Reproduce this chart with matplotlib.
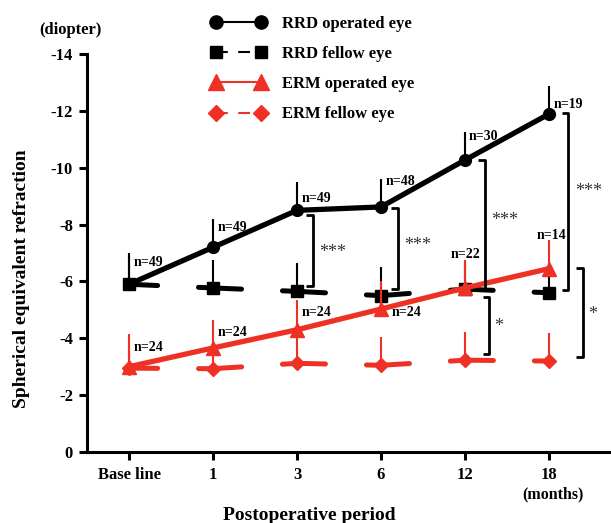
import numpy as np
import matplotlib
matplotlib.use("Agg")
import matplotlib.pyplot as plt
from matplotlib.lines import Line2D

plt.rcParams['font.family'] = 'Liberation Serif'
plt.rcParams['font.weight'] = 'bold'
plt.rcParams['axes.unicode_minus'] = False
plt.rcParams['lines.scale_dashes'] = False

# data (diopter, negative = myopic)
periods = ['Base line', '1', '3', '6', '12', '18']
rrd_op = [-5.9, -7.2, -8.5, -8.62, -10.27, -11.89]
rrd_op_sd = [1.1, 1.0, 1.0, 1.0, 1.0, 1.0]
rrd_fe = [-5.9, -5.77, -5.65, -5.5, -5.73, -5.6]
rrd_fe_sd = [1.0, 1.0, 1.0, 1.0, 1.0, 1.0]
erm_op = [-3.0, -3.66, -4.3, -5.03, -5.77, -6.45]
erm_op_sd = [1.15, 1.0, 1.05, 1.0, 1.0, 1.0]
erm_fe = [-2.95, -2.93, -3.12, -3.05, -3.23, -3.2]
erm_fe_sd = [1.0, 1.0, 1.0, 1.0, 1.0, 1.0]
rrd_n = [49, 49, 49, 48, 30, 19]
erm_n = [24, 24, 24, 24, 22, 14]

x = np.arange(len(periods))

fig = plt.figure(figsize=(6.11, 5.23), dpi=100)
ax = fig.add_axes([87/611, 1-452/523, 524/611, 398/523])

red = '#ee3124'
fellow_dash = (10.4, (31.0, 29.5))

# RRD
ax.errorbar(x, rrd_fe, yerr=[rrd_fe_sd, np.zeros(6)], fmt='none', ecolor='k', elinewidth=1.5, capsize=0, zorder=2)
ax.errorbar(x, rrd_op, yerr=[rrd_op_sd, np.zeros(6)], fmt='none', ecolor='k', elinewidth=1.5, capsize=0, zorder=2)
ax.plot(x, rrd_fe, color='k', lw=3.6, linestyle=fellow_dash, dash_capstyle='round',
        marker='s', ms=8.5, zorder=3)
ax.plot(x, rrd_op, color='k', lw=3.8, marker='o', ms=8.5, zorder=4)

# ERM
ax.errorbar(x, erm_fe, yerr=[erm_fe_sd, np.zeros(6)], fmt='none', ecolor=red, elinewidth=1.5, capsize=0, zorder=5)
ax.errorbar(x, erm_op, yerr=[erm_op_sd, np.zeros(6)], fmt='none', ecolor=red, elinewidth=1.5, capsize=0, zorder=5)
ax.plot(x, erm_fe, color=red, lw=3.6, linestyle=fellow_dash, dash_capstyle='round',
        marker='D', ms=7.5, zorder=6)
ax.plot(x, erm_op, color=red, lw=3.8, marker='^', ms=10, zorder=7)

# n labels (text positions)
rrd_nx = [0.05, 1.05, 2.06, 3.05, 4.04, 5.05]
rrd_ny = [-6.65, -7.88, -8.9, -9.5, -11.11, -12.24]
for xi, yi, n in zip(rrd_nx, rrd_ny, rrd_n):
    ax.text(xi, yi, 'n=%d' % n, fontsize=10, ha='left', va='center', zorder=10)
erm_nx = [0.05, 1.05, 2.06, 3.13, 4.01, 5.03]
erm_ny = [-3.66, -4.22, -4.89, -4.92, -6.96, -7.63]
erm_ha = ['left', 'left', 'left', 'left', 'center', 'center']
for xi, yi, n, h in zip(erm_nx, erm_ny, erm_n, erm_ha):
    ax.text(xi, yi, 'n=%d' % n, fontsize=10, ha=h, va='center', zorder=10)

# significance brackets: x, top, bottom, label, label x, label y
brackets = [
    (2.19, -8.34, -5.84, '***', 2.42, -7.03),
    (3.20, -8.58, -5.73, '***', 3.44, -7.28),
    (4.24, -10.27, -5.70, '***', 4.47, -8.16),
    (5.23, -11.92, -5.70, '***', 5.47, -9.15),
    (4.29, -5.45, -3.45, '*', 4.40, -4.43),
    (5.40, -6.47, -3.34, '*', 5.52, -4.82),
]
for bx, top, bot, lab, lx, ly in brackets:
    ax.plot([bx - 0.08, bx, bx, bx - 0.08], [top, top, bot, bot], color='k', lw=2.0,
            solid_capstyle='butt', zorder=8)
    ax.text(lx, ly, lab, fontsize=13, fontweight='normal', color='#333333',
            ha='center', va='center', zorder=10)

ax.set_xlim(-0.5, -0.5 + 524/84)
ax.set_ylim(0, -14)
ax.set_yticks(np.arange(0, -15, -2))
ax.set_yticklabels(['0', '-2', '-4', '-6', '-8', '-10', '-12', '-14'])
ax.set_xticks(x)
ax.set_xticklabels(periods)
ax.tick_params(axis='both', labelsize=12, width=2.2, length=6, direction='out')
ax.tick_params(axis='x', pad=5)
ax.tick_params(axis='y', pad=4)
for s in ['top', 'right']:
    ax.spines[s].set_visible(False)
for s in ['left', 'bottom']:
    ax.spines[s].set_linewidth(2.2)

fig.text(553/611, 1-494/523, '(months)', fontsize=11.5, ha='center', va='center')
fig.text(70/611, 1-30/523, '(diopter)', fontsize=12, ha='center', va='center')
fig.text(309/611, 1-515/523, 'Postoperative period', fontsize=14, ha='center', va='center')
fig.text(22/611, 1-279/523, 'Spherical equivalent refraction', fontsize=14, rotation=90,
         ha='center', va='center')

# legend
handles = [
    Line2D([], [], color='k', lw=1.5, marker='o', ms=9.5),
    Line2D([], [], color='k', lw=1.5, linestyle=(0, (8.5, 7.5)), marker='s', ms=9),
    Line2D([], [], color=red, lw=1.5, marker='^', ms=11),
    Line2D([], [], color=red, lw=1.5, linestyle=(0, (8.5, 7.5)), marker='D', ms=8),
]
labels = ['RRD operated eye', 'RRD fellow eye', 'ERM operated eye', 'ERM fellow eye']
fig.legend(handles, labels, loc='upper left', bbox_to_anchor=(211/611, 1-16/523),
           frameon=False, fontsize=12, numpoints=2, handlelength=3.3, handletextpad=0.95,
           labelspacing=0.85, borderpad=0, borderaxespad=0)

fig.savefig('out.png', dpi=100)
